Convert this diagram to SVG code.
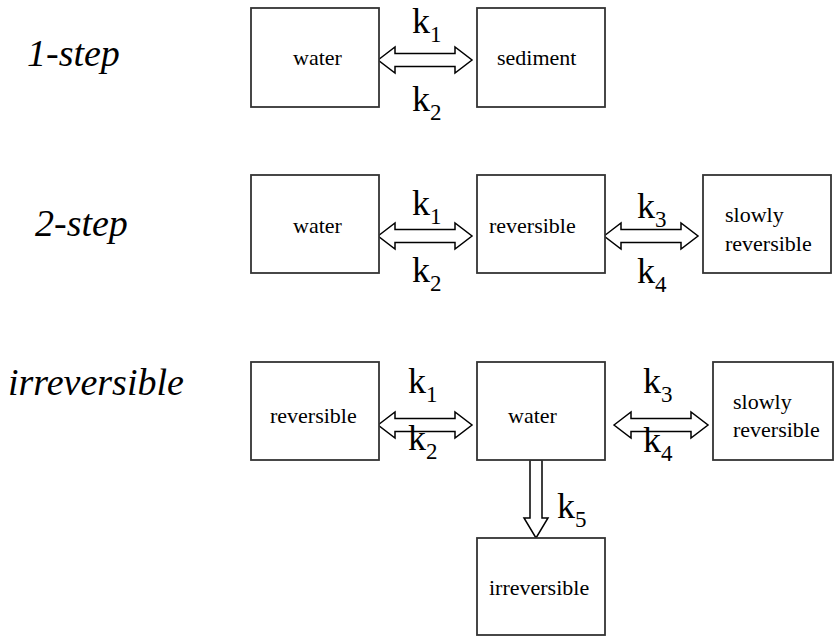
<svg xmlns="http://www.w3.org/2000/svg" width="835" height="636" viewBox="0 0 835 636">
<rect width="835" height="636" fill="#fff"/>
<g id="titles" font-size="38" font-style="italic" fill="#000">
<text font-family="Liberation Serif" x="27" y="66">1-step</text>
<text font-family="Liberation Serif" x="35" y="236">2-step</text>
<text font-family="Liberation Serif" x="8" y="395">irreversible</text>
</g>
<g id="connectors">
<g fill="#fff" stroke="#000" stroke-width="1.5">
<path d="M378,60 L395,47 L395,53.5 L455,53.5 L455,47 L472,60 L455,73 L455,66.5 L395,66.5 L395,73 Z"/>
<path d="M378,236 L395,223 L395,229.5 L455,229.5 L455,223 L472,236 L455,249 L455,242.5 L395,242.5 L395,249 Z"/>
<path d="M604,236 L621,223 L621,229.5 L681,229.5 L681,223 L698,236 L681,249 L681,242.5 L621,242.5 L621,249 Z"/>
<path d="M378,425 L395,412 L395,418.5 L455,418.5 L455,412 L472,425 L455,438 L455,431.5 L395,431.5 L395,438 Z"/>
<path d="M614,425 L631,412 L631,418.5 L691,418.5 L691,412 L708,425 L691,438 L691,431.5 L631,431.5 L631,438 Z"/>
<path d="M530,460 L542,460 L542,518 L548,518 L536,538 L524,518 L530,518 Z"/>
</g>
<g font-size="36" fill="#000">
<text font-family="Liberation Serif" x="412" y="33">k<tspan font-size="23" dy="9">1</tspan></text>
<text font-family="Liberation Serif" x="412" y="111">k<tspan font-size="23" dy="9">2</tspan></text>
<text font-family="Liberation Serif" x="412" y="215">k<tspan font-size="23" dy="9">1</tspan></text>
<text font-family="Liberation Serif" x="412" y="282">k<tspan font-size="23" dy="9">2</tspan></text>
<text font-family="Liberation Serif" x="637" y="218">k<tspan font-size="23" dy="9">3</tspan></text>
<text font-family="Liberation Serif" x="637" y="283">k<tspan font-size="23" dy="9">4</tspan></text>
<text font-family="Liberation Serif" x="408" y="393">k<tspan font-size="23" dy="9">1</tspan></text>
<text font-family="Liberation Serif" x="408" y="450">k<tspan font-size="23" dy="9">2</tspan></text>
<text font-family="Liberation Serif" x="643" y="393">k<tspan font-size="23" dy="9">3</tspan></text>
<text font-family="Liberation Serif" x="643" y="452">k<tspan font-size="23" dy="9">4</tspan></text>
<text font-family="Liberation Serif" x="557" y="518">k<tspan font-size="23" dy="9">5</tspan></text>
</g>
</g>
<g id="nodes" font-size="22">
<g id="n1-water"><rect fill="#fff" stroke="#333" stroke-width="1.8" x="251" y="8" width="128" height="99"/><text font-family="Liberation Serif" x="293" y="65">water</text></g>
<g id="n1-sediment"><rect fill="#fff" stroke="#333" stroke-width="1.8" x="477" y="8" width="128" height="99"/><text font-family="Liberation Serif" x="497" y="65">sediment</text></g>
<g id="n2-water"><rect fill="#fff" stroke="#333" stroke-width="1.8" x="251" y="175" width="128" height="98"/><text font-family="Liberation Serif" x="293" y="233">water</text></g>
<g id="n2-reversible"><rect fill="#fff" stroke="#333" stroke-width="1.8" x="477" y="175" width="128" height="98"/><text font-family="Liberation Serif" x="489" y="233">reversible</text></g>
<g id="n2-slowly"><rect fill="#fff" stroke="#333" stroke-width="1.8" x="703" y="175" width="128" height="98"/><text font-family="Liberation Serif" x="725" y="222">slowly</text><text font-family="Liberation Serif" x="725" y="251">reversible</text></g>
<g id="n3-reversible"><rect fill="#fff" stroke="#333" stroke-width="1.8" x="251" y="362" width="128" height="98"/><text font-family="Liberation Serif" x="270" y="423">reversible</text></g>
<g id="n3-water"><rect fill="#fff" stroke="#333" stroke-width="1.8" x="477" y="362" width="128" height="98"/><text font-family="Liberation Serif" x="508" y="423">water</text></g>
<g id="n3-slowly"><rect fill="#fff" stroke="#333" stroke-width="1.8" x="713" y="362" width="120" height="98"/><text font-family="Liberation Serif" x="733" y="409">slowly</text><text font-family="Liberation Serif" x="733" y="437">reversible</text></g>
<g id="n3-irreversible"><rect fill="#fff" stroke="#333" stroke-width="1.8" x="477" y="538" width="128" height="97"/><text font-family="Liberation Serif" x="489" y="595">irreversible</text></g>
</g>
</svg>
